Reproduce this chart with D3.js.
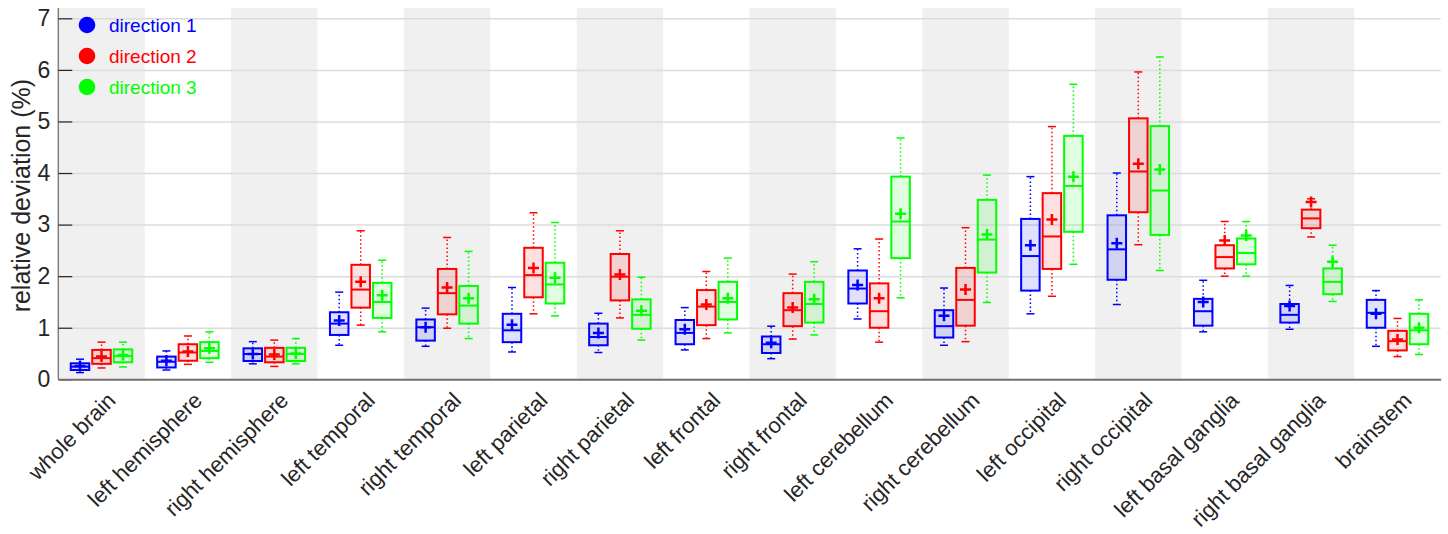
<!DOCTYPE html>
<html>
<head>
<meta charset="utf-8">
<script src="https://cdn.jsdelivr.net/npm/d3@7"></script>
<style>
  body { margin: 0; background: #fff; }
  svg { font-family: "Liberation Sans", Arial, sans-serif; }
</style>
</head>
<body>
<div id="chart"></div>
<script>
const regions = ['whole brain', 'left hemisphere', 'right hemisphere', 'left temporal', 'right temporal',
  'left parietal', 'right parietal', 'left frontal', 'right frontal', 'left cerebellum', 'right cerebellum',
  'left occipital', 'right occipital', 'left basal ganglia', 'right basal ganglia', 'brainstem'];
const directions = ['direction 1', 'direction 2', 'direction 3'];
const yTicks = [0, 1, 2, 3, 4, 5, 6, 7];

// direction 1
const d1Low  = [0.13, 0.18, 0.30, 0.66, 0.64, 0.53, 0.52, 0.57, 0.40, 1.17, 0.66, 1.27, 1.45, 0.92, 0.97, 0.64];
const d1Q1   = [0.18, 0.23, 0.355, 0.86, 0.75, 0.72, 0.66, 0.68, 0.51, 1.47, 0.81, 1.72, 1.93, 1.04, 1.10, 1.00];
const d1Med  = [0.245, 0.34, 0.49, 1.08, 1.01, 0.95, 0.82, 0.90, 0.68, 1.76, 1.03, 2.39, 2.52, 1.32, 1.25, 1.29];
const d1Q3   = [0.31, 0.44, 0.60, 1.30, 1.16, 1.27, 1.08, 1.15, 0.83, 2.11, 1.34, 3.11, 3.18, 1.56, 1.46, 1.54];
const d1High = [0.39, 0.55, 0.73, 1.69, 1.38, 1.78, 1.28, 1.39, 1.03, 2.53, 1.77, 3.93, 4.00, 1.92, 1.82, 1.72];
const d1Mean = [0.26, 0.36, 0.49, 1.14, 1.01, 1.06, 0.90, 0.97, 0.71, 1.83, 1.23, 2.60, 2.64, 1.50, 1.42, 1.27];

// direction 2
const d2Low  = [0.22, 0.29, 0.25, 1.05, 0.99, 1.27, 1.19, 0.79, 0.78, 0.72, 0.73, 1.61, 2.61, 2.00, 2.76, 0.44];
const d2Q1   = [0.30, 0.36, 0.33, 1.39, 1.26, 1.59, 1.53, 1.05, 1.03, 1.00, 1.04, 2.14, 3.24, 2.15, 2.93, 0.56];
const d2Med  = [0.41, 0.52, 0.44, 1.74, 1.67, 2.02, 1.99, 1.41, 1.34, 1.32, 1.54, 2.77, 4.03, 2.37, 3.12, 0.74];
const d2Q3   = [0.57, 0.68, 0.61, 2.22, 2.14, 2.55, 2.43, 1.73, 1.67, 1.86, 2.16, 3.61, 5.06, 2.60, 3.29, 0.94];
const d2High = [0.72, 0.84, 0.76, 2.88, 2.75, 3.23, 2.88, 2.09, 2.04, 2.72, 2.94, 4.90, 5.96, 3.06, 3.50, 1.18];
const d2Mean = [0.44, 0.54, 0.48, 1.89, 1.78, 2.16, 2.03, 1.45, 1.39, 1.57, 1.74, 3.10, 4.18, 2.69, 3.44, 0.77];

// direction 3
const d3Low  = [0.24, 0.33, 0.30, 0.92, 0.79, 1.23, 0.76, 0.90, 0.86, 1.58, 1.49, 2.23, 2.11, 2.00, 1.51, 0.48];
const d3Q1   = [0.33, 0.41, 0.355, 1.19, 1.08, 1.47, 0.98, 1.16, 1.10, 2.35, 2.07, 2.86, 2.80, 2.23, 1.65, 0.68];
const d3Med  = [0.45, 0.55, 0.49, 1.50, 1.43, 1.84, 1.25, 1.50, 1.46, 3.06, 2.71, 3.75, 3.66, 2.45, 1.89, 0.95];
const d3Q3   = [0.58, 0.72, 0.61, 1.87, 1.81, 2.26, 1.55, 1.89, 1.89, 3.93, 3.48, 4.72, 4.91, 2.73, 2.15, 1.27];
const d3High = [0.72, 0.92, 0.79, 2.31, 2.48, 3.04, 1.98, 2.35, 2.28, 4.68, 3.96, 5.72, 6.25, 3.06, 2.60, 1.54];
const d3Mean = [0.47, 0.60, 0.50, 1.63, 1.57, 1.97, 1.33, 1.57, 1.55, 3.21, 2.81, 3.93, 4.07, 2.79, 2.28, 1.00];

const colors = ['#0000ff', '#ff0000', '#00ff00'];

const series = [
  [d1Low, d1Q1, d1Med, d1Q3, d1High, d1Mean],
  [d2Low, d2Q1, d2Med, d2Q3, d2High, d2Mean],
  [d3Low, d3Q1, d3Med, d3Q3, d3High, d3Mean]
];

const boxes = [];
series.forEach((s, k) => {
  regions.forEach((r, i) => {
    boxes.push({ region: r, dir: directions[k], color: colors[k],
      low: s[0][i], q1: s[1][i], med: s[2][i], q3: s[3][i], high: s[4][i], mean: s[5][i] });
  });
});

const width = 1448;
const height = 534;
const plotLeft = 58.3;
const plotRight = 1440.7;
const plotTop = 8;
const plotBottom = 379.3;

const svg = d3.select('#chart')
              .append('svg')
              .attr('width', width)
              .attr('height', height);

const xScale = d3.scaleBand()
                 .domain(regions)
                 .range([plotLeft, plotRight])
                 .padding(0);

const dirScale = d3.scalePoint()
                   .domain(directions)
                   .range([-21.5, 21.5]);

const yScale = d3.scaleLinear()
                 .domain([0, 7.2])
                 .range([plotBottom, plotTop]);

// alternating shaded bands
svg.append('g')
   .selectAll('rect')
   .data(regions.filter((d, i) => i % 2 === 0))
   .enter()
   .append('rect')
   .attr('x', d => xScale(d))
   .attr('y', plotTop)
   .attr('width', xScale.bandwidth())
   .attr('height', plotBottom - plotTop)
   .style('fill', '#f0f0f0');

// grid
svg.append('g')
   .attr('transform', 'translate(' + plotLeft + ', 0)')
   .call(d3.axisLeft(yScale).tickValues(yTicks.slice(1)).tickSize(-(plotRight - plotLeft)).tickFormat(''))
   .call(g => g.select('.domain').remove())
   .selectAll('line')
   .style('stroke', '#dcdcdc')
   .style('stroke-width', 1.5);

// boxes
const bw = 18.5;
const cap = 8;
const cx = d => xScale(d.region) + xScale.bandwidth() / 2 + dirScale(d.dir);

const box = svg.append('g')
               .selectAll('g')
               .data(boxes)
               .enter()
               .append('g');

box.append('line')
   .attr('x1', cx).attr('x2', cx)
   .attr('y1', d => yScale(d.q3)).attr('y2', d => yScale(d.high))
   .style('stroke', d => d.color)
   .style('stroke-width', 1.5)
   .style('stroke-dasharray', '1.5,2.5');

box.append('line')
   .attr('x1', cx).attr('x2', cx)
   .attr('y1', d => yScale(d.q1)).attr('y2', d => yScale(d.low))
   .style('stroke', d => d.color)
   .style('stroke-width', 1.5)
   .style('stroke-dasharray', '1.5,2.5');

box.append('line')
   .attr('x1', d => cx(d) - cap / 2).attr('x2', d => cx(d) + cap / 2)
   .attr('y1', d => yScale(d.high)).attr('y2', d => yScale(d.high))
   .style('stroke', d => d.color)
   .style('stroke-width', 1.5);

box.append('line')
   .attr('x1', d => cx(d) - cap / 2).attr('x2', d => cx(d) + cap / 2)
   .attr('y1', d => yScale(d.low)).attr('y2', d => yScale(d.low))
   .style('stroke', d => d.color)
   .style('stroke-width', 1.5);

box.append('rect')
   .attr('x', d => cx(d) - bw / 2)
   .attr('y', d => yScale(d.q3))
   .attr('width', bw)
   .attr('height', d => yScale(d.q1) - yScale(d.q3))
   .style('fill', d => d.color)
   .style('fill-opacity', 0.12)
   .style('stroke', d => d.color)
   .style('stroke-width', 2);

box.append('line')
   .attr('x1', d => cx(d) - bw / 2).attr('x2', d => cx(d) + bw / 2)
   .attr('y1', d => yScale(d.med)).attr('y2', d => yScale(d.med))
   .style('stroke', d => d.color)
   .style('stroke-width', 2);

box.append('path')
   .attr('d', d => 'M' + (cx(d) - 5.5) + ',' + yScale(d.mean) + 'h11M' + cx(d) + ',' + (yScale(d.mean) - 5.5) + 'v11')
   .style('stroke', d => d.color)
   .style('stroke-width', 2.5);

// y axis
const yAxis = svg.append('g')
                 .attr('transform', 'translate(' + plotLeft + ', 0)')
                 .call(d3.axisLeft(yScale).tickValues(yTicks).tickSize(-14).tickPadding(8).tickFormat(d3.format('d')));

yAxis.select('.domain')
     .attr('d', 'M0,' + plotTop + 'V' + plotBottom)
     .style('stroke', '#808080')
     .style('stroke-width', 1.5);

yAxis.selectAll('.tick line')
     .style('stroke', '#262626')
     .style('stroke-width', 1.2);

yAxis.selectAll('.tick text')
     .style('font-size', '23px')
     .style('font-family', '"Liberation Sans", Arial, sans-serif')
     .style('fill', '#262626');

// x axis
const xAxis = svg.append('g')
                 .attr('transform', 'translate(0, ' + plotBottom + ')')
                 .call(d3.axisBottom(xScale).tickSize(0).tickPadding(0));

xAxis.select('.domain')
     .style('stroke', '#707070')
     .style('stroke-width', 2);

xAxis.selectAll('.tick text')
     .attr('text-anchor', 'end')
     .attr('x', 0)
     .attr('y', 0)
     .attr('dy', '0.35em')
     .attr('transform', 'translate(10, 17) rotate(-45)')
     .style('font-size', '22px')
     .style('font-family', '"Liberation Sans", Arial, sans-serif')
     .style('fill', '#262626');

svg.append('text')
   .attr('transform', 'translate(30, ' + ((plotTop + plotBottom) / 2 + 2) + ') rotate(-90)')
   .attr('text-anchor', 'middle')
   .style('font-size', '25px')
   .style('fill', '#262626')
   .text('relative deviation (%)');

// legend
const legend = svg.append('g')
                  .selectAll('g')
                  .data(directions)
                  .enter()
                  .append('g')
                  .attr('transform', (d, i) => 'translate(87, ' + (25 + i * 31) + ')');

legend.append('circle')
      .attr('r', 8.3)
      .style('fill', (d, i) => colors[i]);

legend.append('text')
      .attr('x', 22)
      .attr('dy', '0.35em')
      .style('font-size', '19px')
      .style('fill', (d, i) => colors[i])
      .text(d => d);
</script>
</body>
</html>
